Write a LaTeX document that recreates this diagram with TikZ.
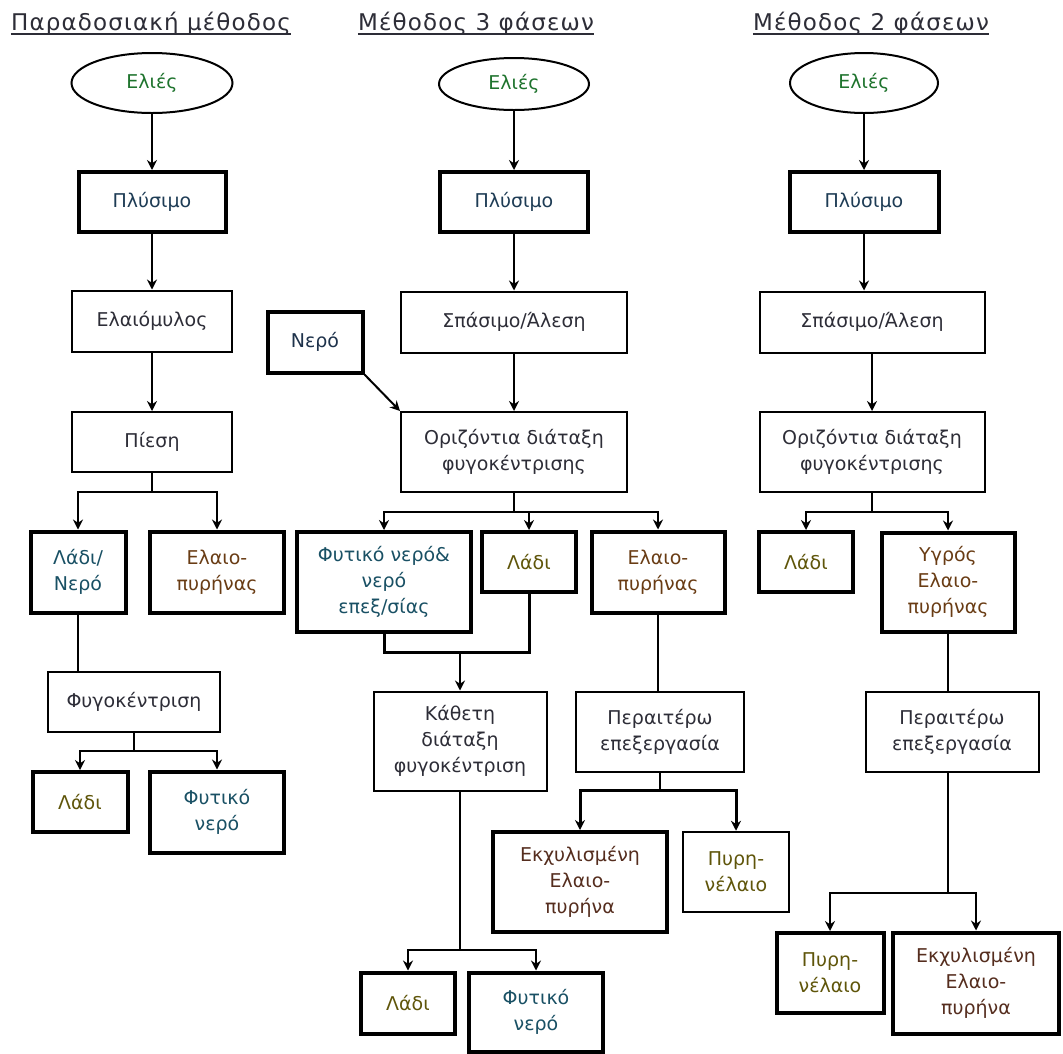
\documentclass[tikz,border=0pt]{standalone}
\usepackage{fontspec}
\setmainfont{DejaVu Sans}
\usetikzlibrary{shapes.geometric, arrows.meta}

\definecolor{textgray}{RGB}{45,45,55}
\definecolor{olivegreen}{RGB}{30,115,45}
\definecolor{washblue}{RGB}{30,60,85}
\definecolor{oilyellow}{RGB}{95,85,10}
\definecolor{waterteal}{RGB}{25,80,100}
\definecolor{pomacebrown}{RGB}{105,60,20}
\definecolor{residue}{RGB}{85,45,30}
\definecolor{nerotext}{RGB}{30,50,75}

\begin{document}
\begin{tikzpicture}
        [x=1pt, y=-1pt, font=\fontsize{19}{26}\selectfont,
        title/.style={font=\fontsize{23}{26}\selectfont\addfontfeatures{LetterSpace=5}, text=textgray, inner xsep=0pt, anchor=base},
        underl/.style={line width=1.8pt, textgray},
        box/.style={rectangle, draw, line width=2pt, align=center, inner sep=2pt, text=textgray},
        boldbox/.style={box, line width=4pt},
        olive/.style={ellipse, draw, line width=2pt, text=olivegreen},
        flow/.style={-{Stealth[length=10pt, width=10pt]}, line width=2pt},
        heavyflow/.style={flow, line width=3pt},
        link/.style={line width=2pt},
        heavylink/.style={line width=3pt}]

        \useasboundingbox (0,0) rectangle (1063,1053);

        % titles
        \node[title] (t1) at (151,30) {Παραδοσιακή μέθοδος};
        \node[title] (t2) at (476,30) {Μέθοδος 3 φάσεων};
        \node[title] (t3) at (871,30) {Μέθοδος 2 φάσεων};
        \draw[underl] ([yshift=-4pt]t1.base west) -- ([yshift=-4pt]t1.base east);
        \draw[underl] ([yshift=-4pt]t2.base west) -- ([yshift=-4pt]t2.base east);
        \draw[underl] ([yshift=-4pt]t3.base west) -- ([yshift=-4pt]t3.base east);

        % traditional method
        \node[olive, minimum width=161pt, minimum height=60pt] (ol1) at (152,83) {Ελιές};
        \node[boldbox, text=washblue, minimum width=147pt, minimum height=60pt] (pl1) at (152,202) {Πλύσιμο};
        \node[box, minimum width=160pt, minimum height=61pt] (mill1) at (152,321) {Ελαιόμυλος};
        \node[box, minimum width=160pt, minimum height=60pt] (pr1) at (152,442) {Πίεση};
        \coordinate (j1) at (152,492);
        \node[boldbox, text=waterteal, minimum width=95pt, minimum height=81pt] (ow1) at (78,572) {Λάδι/\\Νερό};
        \node[boldbox, text=pomacebrown, minimum width=134pt, minimum height=81pt] (pm1) at (217,572) {Ελαιο-\\πυρήνας};
        \node[box, minimum width=172pt, minimum height=60pt] (cf1) at (134,702) {Φυγοκέντριση};
        \coordinate (j2) at (134,751);
        \node[boldbox, text=oilyellow, minimum width=95pt, minimum height=60pt] (oil1) at (80,802) {Λάδι};
        \node[boldbox, text=waterteal, minimum width=134pt, minimum height=81pt] (ww1) at (217,812) {Φυτικό\\νερό};

        \draw[flow] (ol1) -- (pl1);
        \draw[flow] (pl1) -- (mill1);
        \draw[flow] (mill1) -- (pr1);
        \draw[link] (pr1) -- (j1);
        \draw[flow] (j1) -| (ow1);
        \draw[flow] (j1) -| (pm1);
        \draw[link] (ow1) -- (ow1 |- cf1.north);
        \draw[link] (cf1) -- (j2);
        \draw[flow] (j2) -| (oil1);
        \draw[flow] (j2) -| (ww1);

        % three phase method
        \node[olive, minimum width=150pt, minimum height=52pt] (ol2) at (514,84) {Ελιές};
        \node[boldbox, text=washblue, minimum width=148pt, minimum height=60pt] (pl2) at (514,202) {Πλύσιμο};
        \node[box, minimum width=226pt, minimum height=61pt] (br2) at (514,322) {Σπάσιμο/Άλεση};
        \node[boldbox, text=nerotext, minimum width=95pt, minimum height=61pt] (wat2) at (315,342) {Νερό};
        \node[box, minimum width=226pt, minimum height=80pt] (hz2) at (514,452) {Οριζόντια διάταξη\\φυγοκέντρισης};
        \coordinate (j3) at (514,512);
        \node[boldbox, text=waterteal, minimum width=174pt, minimum height=100pt] (ww2) at (384,582) {Φυτικό νερό\&\\νερό\\επεξ/σίας};
        \node[boldbox, text=oilyellow, minimum width=94pt, minimum height=60pt] (oil2) at (529,562) {Λάδι};
        \node[boldbox, text=pomacebrown, minimum width=133pt, minimum height=81pt] (pm2) at (658,572) {Ελαιο-\\πυρήνας};
        \coordinate (j4) at (460,652);
        \node[box, minimum width=173pt, minimum height=99pt] (vt2) at (460,741) {Κάθετη\\διάταξη\\φυγοκέντριση};
        \coordinate (j5) at (460,950);
        \node[boldbox, text=oilyellow, minimum width=94pt, minimum height=61pt] (oil3) at (408,1003) {Λάδι};
        \node[boldbox, text=waterteal, minimum width=134pt, minimum height=79pt] (ww3) at (536,1012) {Φυτικό\\νερό};
        \node[box, minimum width=168pt, minimum height=80pt] (fp2) at (660,732) {Περαιτέρω\\επεξεργασία};
        \coordinate (j6) at (660,790);
        \node[boldbox, text=residue, minimum width=174pt, minimum height=100pt] (ex2) at (580,882) {Εκχυλισμένη\\Ελαιο-\\πυρήνα};
        \node[box, line width=2.5pt, text=oilyellow, minimum width=106pt, minimum height=80pt] (pn2) at (736,872) {Πυρη-\\νέλαιο};

        \draw[flow] (ol2) -- (pl2);
        \draw[flow] (pl2) -- (br2);
        \draw[flow] (br2) -- (hz2);
        \draw[flow] (wat2.south east) -- (hz2.north west);
        \draw[link] (hz2) -- (j3);
        \draw[flow] (j3) -| (ww2);
        \draw[flow] (j3) -| (oil2);
        \draw[flow] (j3) -| (pm2);
        \draw[heavylink] (ww2) |- (j4) -| (oil2);
        \draw[flow] (j4) -- (vt2);
        \draw[link] (vt2) -- (j5);
        \draw[flow] (j5) -| (oil3);
        \draw[flow] (j5) -| (ww3);
        \draw[link] (pm2) -- (pm2 |- fp2.north);
        \draw[link] (fp2) -- (j6);
        \draw[heavyflow] (j6) -| (ex2);
        \draw[heavyflow] (j6) -| (pn2);

        % two phase method
        \node[olive, minimum width=148pt, minimum height=60pt] (ol3) at (864,83) {Ελιές};
        \node[boldbox, text=washblue, minimum width=149pt, minimum height=60pt] (pl3) at (864,202) {Πλύσιμο};
        \node[box, minimum width=225pt, minimum height=61pt] (br3) at (872,322) {Σπάσιμο/Άλεση};
        \node[box, minimum width=225pt, minimum height=80pt] (hz3) at (872,452) {Οριζόντια διάταξη\\φυγοκέντρισης};
        \coordinate (j7) at (872,512);
        \node[boldbox, text=oilyellow, minimum width=94pt, minimum height=60pt] (oil4) at (806,562) {Λάδι};
        \node[boldbox, text=pomacebrown, minimum width=133pt, minimum height=99pt] (wp3) at (948,582) {Υγρός\\Ελαιο-\\πυρήνας};
        \node[box, minimum width=173pt, minimum height=80pt] (fp3) at (952,732) {Περαιτέρω\\επεξεργασία};
        \coordinate (j8) at (948,893);
        \node[boldbox, text=oilyellow, minimum width=107pt, minimum height=80pt] (pn3) at (830,973) {Πυρη-\\νέλαιο};
        \node[boldbox, text=residue, minimum width=166pt, minimum height=101pt] (ex3) at (976,983) {Εκχυλισμένη\\Ελαιο-\\πυρήνα};

        \draw[flow] (ol3) -- (pl3);
        \draw[flow] (pl3) -- (pl3 |- br3.north);
        \draw[flow] (br3) -- (hz3);
        \draw[link] (hz3) -- (j7);
        \draw[flow] (j7) -| (oil4);
        \draw[flow] (j7) -| (wp3);
        \draw[link] (wp3) -- (wp3 |- fp3.north);
        \draw[link] (wp3 |- fp3.south) -- (j8);
        \draw[flow] (j8) -| (pn3);
        \draw[flow] (j8) -| (ex3);

\end{tikzpicture}
\end{document}
